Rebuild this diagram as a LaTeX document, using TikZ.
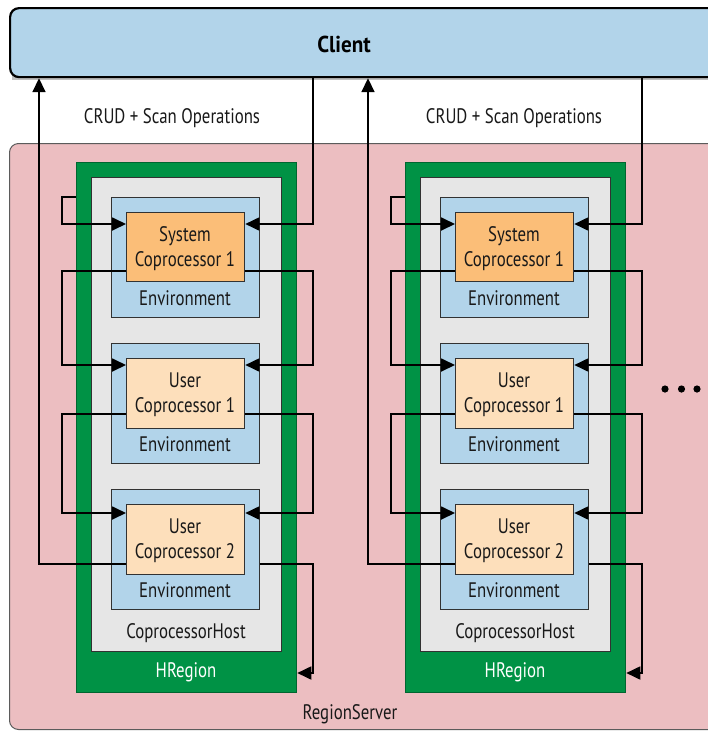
\documentclass[tikz,border=0pt]{standalone}
\usepackage{fontspec}
\setmainfont{PT Sans}[FakeStretch=0.8]
\newfontfamily\clientfont{PT Sans}[FakeStretch=0.92]
\usetikzlibrary{arrows.meta}
\definecolor{clientblue}{RGB}{178,212,234}
\definecolor{rspink}{RGB}{236,190,193}
\definecolor{hgreen}{RGB}{0,146,69}
\definecolor{hostgray}{RGB}{230,230,230}
\definecolor{sysorange}{RGB}{251,190,120}
\definecolor{userorange}{RGB}{253,223,187}
\definecolor{edge}{RGB}{50,50,50}
\tikzset{
  box/.style={draw=edge, line width=1.3pt, anchor=north west, inner sep=0pt},
  clientbox/.style={box, fill=clientblue, draw=black, line width=2.2pt, rounded corners=9pt},
  rsbox/.style={box, fill=rspink, draw=edge!80, line width=1pt, rounded corners=9pt},
  hregion/.style={box, fill=hgreen, draw=hgreen!70!black},
  hostbox/.style={box, fill=hostgray, draw=edge},
  envbox/.style={box, fill=clientblue, draw=edge},
  sysbox/.style={box, fill=sysorange, draw=edge, align=center},
  userbox/.style={box, fill=userorange, draw=edge, align=center},
  lbl/.style={font=\fontsize{21}{25}\selectfont, inner sep=0pt, text=black!90},
  conn/.style={draw=black, line width=1.8pt},
  arr/.style={conn, -{Triangle[length=14pt,width=13pt]}},
}
\begin{document}
\begin{tikzpicture}[x=1pt,y=-1pt]
\useasboundingbox (0,0) rectangle (708,732);
\begin{scope}
\clip (0,0) rectangle (708,732);
\fill[white] (0,0) rectangle (708,732);
\node[rsbox, minimum width=740pt, minimum height=586pt] (rs) at (9,143) {};
\fill[black!25] (12,11) rectangle (730,80);
\node[clientbox, minimum width=740pt, minimum height=69pt] (client) at (9,7) {};
\node[font=\clientfont\fontsize{23}{26}\selectfont\bfseries, inner sep=0pt] (clientlbl) at (344,44) {Client};
\node[lbl] (rslbl) at (350,714) {RegionServer};
\node[lbl] (crudL) at (172,118) {CRUD + Scan Operations};
\node[lbl] (crudR) at (514,118) {CRUD + Scan Operations};

\foreach \c/\d in {L/0,R/329}{
  \node[hregion, minimum width=220pt, minimum height=530pt] (hr\c) at (76+\d,162) {};
  \node[hostbox, minimum width=190pt, minimum height=474pt] (host\c) at (91+\d,177) {};
  \node[envbox, minimum width=148pt, minimum height=120pt] (envA\c) at (111+\d,197) {};
  \node[envbox, minimum width=148pt, minimum height=120pt] (envB\c) at (111+\d,343) {};
  \node[envbox, minimum width=148pt, minimum height=120pt] (envC\c) at (111+\d,489) {};
  \node[sysbox, minimum width=118pt, minimum height=69pt] (cpA\c) at (126+\d,212) {};
  \node[userbox, minimum width=118pt, minimum height=70pt] (cpB\c) at (126+\d,358) {};
  \node[userbox, minimum width=118pt, minimum height=70pt] (cpC\c) at (126+\d,504) {};
  \node[lbl, align=center] (cpAt\c) at (185+\d,249) {System\\Coprocessor 1};
  \node[lbl, align=center] (cpBt\c) at (185+\d,395) {User\\Coprocessor 1};
  \node[lbl, align=center] (cpCt\c) at (185+\d,541) {User\\Coprocessor 2};
  \node[lbl] (envAt\c) at (185+\d,298) {Environment};
  \node[lbl] (envBt\c) at (185+\d,444) {Environment};
  \node[lbl] (envCt\c) at (185+\d,590) {Environment};
  \node[lbl] (hostt\c) at (186+\d,633) {CoprocessorHost};
  \node[lbl, text=white] (hrt\c) at (186+\d,672) {HRegion};
  % connectors
  \draw[arr] (cpC\c.west |- 0,564) -| (client.south -| 39+\d,0);
  \draw[arr] (client.south -| 313+\d,0) |- (cpA\c.east |- 0,224);
  \draw[arr] (hr\c.west |- 0,197) -- (62+\d,197) |- (cpA\c.west |- 0,224);
  \draw[arr] (cpA\c.west |- 0,271) -- (62+\d,271) |- (cpB\c.west |- 0,365);
  \draw[arr] (cpA\c.east |- 0,271) -- (313+\d,271) |- (cpB\c.east |- 0,365);
  \draw[arr] (cpB\c.west |- 0,414) -- (62+\d,414) |- (cpC\c.west |- 0,513);
  \draw[arr] (cpB\c.east |- 0,414) -- (313+\d,414) |- (cpC\c.east |- 0,513);
  \draw[arr] (envC\c.east |- 0,564) -- (313+\d,564) |- (hr\c.east |- 0,673);
}
\fill (665,389) circle (3.6pt) (681.5,389) circle (3.6pt) (697,389) circle (3.6pt);
\end{scope}
\end{tikzpicture}
\end{document}
